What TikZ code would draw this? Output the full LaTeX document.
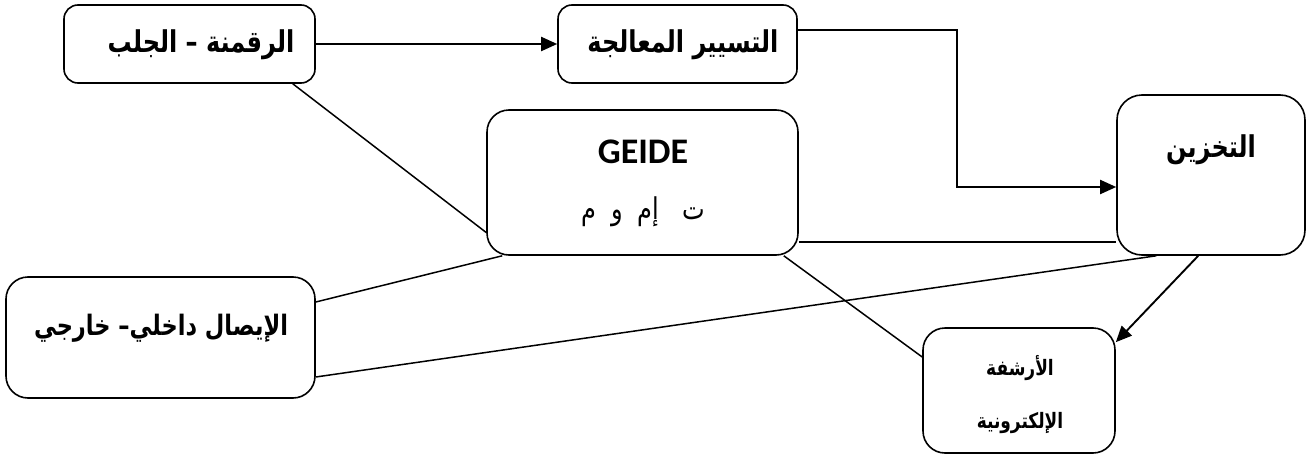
\documentclass[tikz,border=0pt]{standalone}
\usepackage{fontspec}
\usetikzlibrary{arrows.meta,calc}
\TeXXeTstate=1
\newfontfamily\arabicfont[Script=Arabic]{DejaVu Sans}
\newfontfamily\calibrifont{Carlito}
\newcommand{\ar}[1]{\scalebox{1}[1.25]{\arabicfont\bfseries\beginR #1\endR}}
\tikzset{
  box/.style={draw, line width=1.6pt, rounded corners=#1, inner sep=0pt},
  box/.default=14pt,
  lbl/.style={inner sep=0pt, font=\fontsize{24}{28}\selectfont},
  conn/.style={line width=1.5pt},
  arr/.style={line width=1.9pt, -{Triangle[length=16pt,width=14pt]}}
}
\begin{document}
\begin{tikzpicture}[x=1pt,y=-1pt]
\useasboundingbox (0,0) rectangle (1312,455);
% boxes
\node[box=14pt, minimum width=251pt, minimum height=78pt] (b1) at (189.5,44) {};
\node[box=14pt, minimum width=239pt, minimum height=78pt] (b2) at (677.5,44) {};
\node[box=22pt, minimum width=311pt, minimum height=145pt] (b3) at (642.5,182.5) {};
\node[box=25pt, minimum width=188pt, minimum height=160pt] (b4) at (1211,175) {};
\node[box=22pt, minimum width=309pt, minimum height=121pt] (b5) at (160.5,337.5) {};
\node[box=22pt, minimum width=192pt, minimum height=125pt] (b6) at (1019,390.5) {};
% labels
\node[lbl] (t1) at (201,45) {\ar{الرقمنة – الجلب}};
\node[lbl] (t2) at (683,45) {\ar{التسيير المعالجة}};
\node[inner sep=0pt, font=\calibrifont\bfseries\fontsize{36}{40}\selectfont] (t3) at (643,152) {GEIDE};
\node[lbl] (t3b) at (643,212) {\scalebox{1}[1.25]{\arabicfont\beginR ت\ \ \ إم\ \ و\ \ م\endR}};
\node[lbl] (t4) at (1211,150) {\ar{التخزين}};
\node[lbl, font=\fontsize{22.5}{26}\selectfont] (t5) at (161,328) {\ar{الإيصال داخلي– خارجي}};
\node[lbl, font=\fontsize{17}{20}\selectfont] (t6) at (1020,368) {\ar{الأرشفة}};
\node[lbl, font=\fontsize{17}{20}\selectfont] (t6b) at (1020,423) {\ar{الإلكترونية}};
% connectors
\coordinate (k) at (957,0);
\coordinate (p2) at ([yshift=14pt]b2.east);
\coordinate (p4) at ([yshift=-12pt]b4.west);
\draw[arr] (b1.east) -- (b2.west);
\draw[arr] (p2) -| (k |- p4) -- (p4);
\draw[conn] ([xshift=-23pt]b1.south east) -- ([yshift=-50pt]b3.west);
\draw[conn] ([yshift=-59.5pt]b3.east) -- ([yshift=-67pt]b4.west);
\draw[conn] ([xshift=16pt]b3.south west) -- ([yshift=35.5pt]b5.east);
\draw[conn] ([yshift=-39.5pt]b5.east) -- ([xshift=40pt]b4.south west);
\draw[conn] ([xshift=-15pt]b3.south east) -- ([yshift=33.5pt]b6.west);
\draw[arr] ([xshift=82pt]b4.south west) -- ([yshift=-15pt]b6.north east);
\end{tikzpicture}
\end{document}
